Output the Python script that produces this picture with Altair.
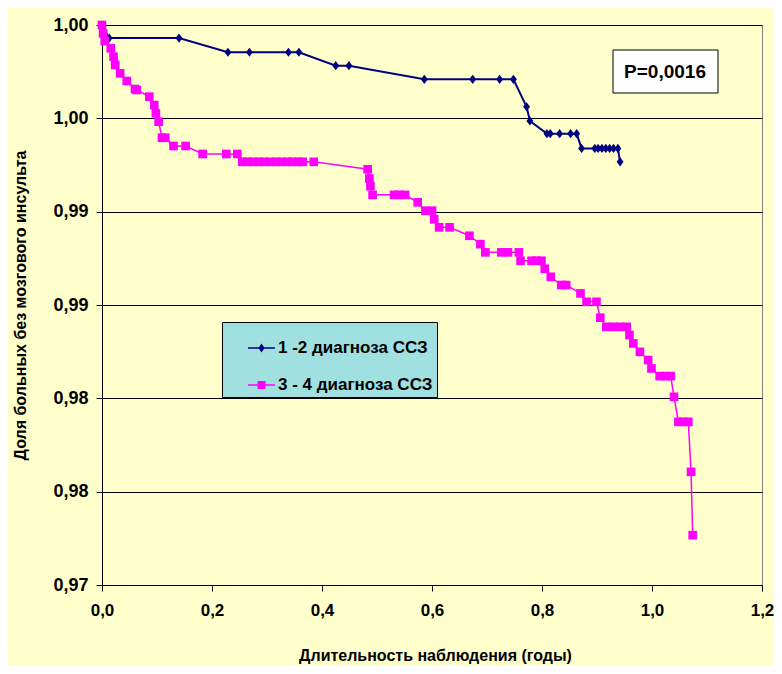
import altair as alt
import pandas as pd

# ---- data ----
series_names = ["1 -2 диагноза ССЗ", "3 - 4 диагноза ССЗ"]
series_colors = ["#000080", "#FF00FF"]

blue_t = [0.000, 0.013, 0.140, 0.229, 0.268, 0.339, 0.358, 0.425, 0.449, 0.586,
          0.674, 0.723, 0.748, 0.772, 0.778, 0.809, 0.815, 0.832, 0.852, 0.863,
          0.872, 0.896, 0.902, 0.909, 0.916, 0.923, 0.930, 0.938, 0.942]
blue_s = [1.00000, 0.99930, 0.99930, 0.99854, 0.99854, 0.99854, 0.99854, 0.99782, 0.99782, 0.99709,
          0.99709, 0.99709, 0.99709, 0.99562, 0.99486, 0.99418, 0.99418, 0.99418, 0.99418, 0.99418,
          0.99339, 0.99339, 0.99339, 0.99339, 0.99339, 0.99339, 0.99339, 0.99339, 0.99267]

pink_t = [0.000, 0.002, 0.005, 0.016, 0.021, 0.024, 0.033, 0.045, 0.060, 0.063,
          0.086, 0.095, 0.098, 0.103, 0.109, 0.115, 0.130, 0.152, 0.183, 0.226,
          0.246, 0.255, 0.265, 0.274, 0.285, 0.294, 0.306, 0.317, 0.326, 0.337,
          0.346, 0.357, 0.365, 0.385, 0.483, 0.486, 0.488, 0.492, 0.531, 0.540,
          0.551, 0.574, 0.588, 0.600, 0.604, 0.613, 0.632, 0.668, 0.688, 0.697,
          0.726, 0.738, 0.758, 0.761, 0.781, 0.790, 0.799, 0.805, 0.816, 0.835,
          0.844, 0.870, 0.881, 0.899, 0.906, 0.917, 0.930, 0.942, 0.954, 0.959,
          0.966, 0.978, 0.993, 0.999, 1.014, 1.025, 1.034, 1.040, 1.048, 1.057,
          1.066, 1.071, 1.074]
pink_s = [1.00000, 0.99955, 0.99914, 0.99875, 0.99830, 0.99786, 0.99741, 0.99700, 0.99657, 0.99652,
          0.99616, 0.99571, 0.99527, 0.99482, 0.99396, 0.99396, 0.99352, 0.99352, 0.99309, 0.99309,
          0.99309, 0.99267, 0.99267, 0.99267, 0.99267, 0.99267, 0.99267, 0.99267, 0.99267, 0.99267,
          0.99267, 0.99267, 0.99267, 0.99267, 0.99227, 0.99178, 0.99137, 0.99090, 0.99090, 0.99090,
          0.99090, 0.99050, 0.99005, 0.99005, 0.98959, 0.98916, 0.98916, 0.98871, 0.98826, 0.98782,
          0.98782, 0.98782, 0.98782, 0.98737, 0.98737, 0.98737, 0.98737, 0.98694, 0.98651, 0.98607,
          0.98607, 0.98562, 0.98517, 0.98517, 0.98432, 0.98383, 0.98383, 0.98383, 0.98383, 0.98339,
          0.98294, 0.98249, 0.98205, 0.98160, 0.98119, 0.98119, 0.98119, 0.98008, 0.97874, 0.97874,
          0.97874, 0.97606, 0.97267]

x_ticks = [0.0, 0.2, 0.4, 0.6, 0.8, 1.0, 1.2]
y_ticks = [0.970, 0.975, 0.980, 0.985, 0.990, 0.995, 1.000]
x_title = "Длительность наблюдения (годы)"
y_title = "Доля больных без мозгового инсульта"
p_label = ["P=0,0016"]

# ---- tables ----
blue = pd.DataFrame({"t": blue_t, "s": blue_s, "i": range(len(blue_t))})
pink = pd.DataFrame({"t": pink_t, "s": pink_s, "i": range(len(pink_t))})
legend_df = pd.DataFrame({"series": series_names})
p_df = pd.DataFrame({"label": p_label})

FONT = "Liberation Sans Narrow, Arial Narrow, Liberation Sans, Arial, sans-serif"

x_enc = alt.X(
    "t:Q",
    scale=alt.Scale(domain=[0, 1.2], nice=False, zero=False),
    axis=alt.Axis(
        values=x_ticks,
        labelExpr="replace(format(datum.value, '.1f'), '.', ',')",
        labelFlush=False,
        title=x_title,
        grid=False,
        tickSize=6,
        tickColor="black",
        domainColor="black",
        labelFont=FONT, labelFontSize=17, labelFontWeight="bold", labelColor="black",
        labelPadding=11,
        titleFont=FONT, titleFontSize=16, titleFontWeight="bold", titleColor="black",
        titleX=333, titleY=70, titleBaseline="middle", titleAlign="center",
    ),
)
y_enc = alt.Y(
    "s:Q",
    scale=alt.Scale(domain=[0.97, 1.0], nice=False, zero=False),
    axis=alt.Axis(
        values=y_ticks,
        labelExpr="replace(format(round(datum.value * 100 + 0.000001) / 100, '.2f'), '.', ',')",
        labelFlush=False,
        title=y_title,
        grid=True, gridColor="black", gridWidth=1, gridOpacity=1,
        tickSize=6,
        tickColor="black",
        domainColor="black",
        labelFont=FONT, labelFontSize=18, labelFontWeight="bold", labelColor="black",
        labelPadding=8,
        titleFont=FONT, titleFontSize=16, titleFontWeight="bold", titleColor="black",
        titleAngle=270, titleX=-82, titleY=280, titleAlign="center", titleBaseline="middle",
    ),
)

diamond_path = "M0,-1L0.75,0L0,1L-0.75,0Z"
leg_diamond = "M0,-0.036L1.227,-0.036L1.227,0.036L0,0.036Z M0.614,-0.2L0.754,0L0.614,0.2L0.474,0Z"
leg_square = "M0,-0.036L1.227,-0.036L1.227,0.036L0,0.036Z M0.434,-0.18L0.794,-0.18L0.794,0.18L0.434,0.18Z"

blue_line = alt.Chart(blue).mark_line(color=series_colors[0], strokeWidth=2).encode(
    x=x_enc, y=y_enc, order="i:Q")
blue_pts = alt.Chart(blue).mark_point(
    filled=True, shape=diamond_path, size=85, color=series_colors[0], opacity=1, strokeWidth=0
).encode(x=x_enc, y=y_enc)
pink_line = alt.Chart(pink).mark_line(color=series_colors[1], strokeWidth=1.5).encode(
    x=x_enc, y=y_enc, order="i:Q")
pink_pts = alt.Chart(pink).mark_point(
    filled=True, shape="square", size=75, color=series_colors[1], opacity=1, strokeWidth=0
).encode(x=x_enc, y=y_enc)

legend_layer = alt.Chart(legend_df).transform_filter("false").mark_point(
    filled=True, opacity=1, strokeWidth=0
).encode(
    color=alt.Color("series:N", title=None,
                    scale=alt.Scale(domain=series_names, range=series_colors)),
    shape=alt.Shape("series:N", title=None,
                    scale=alt.Scale(domain=series_names, range=[leg_diamond, leg_square])),
)

p_box = alt.Chart(p_df).mark_rect(fill="white", stroke="black", strokeWidth=1).encode(
    x=alt.value(511), x2=alt.value(616), y=alt.value(25), y2=alt.value(68))
p_text = alt.Chart(p_df).mark_text(
    font=FONT, fontSize=19, fontWeight="bold", color="black", align="center", baseline="middle"
).encode(x=alt.value(563), y=alt.value(47), text="label:N")

chart = alt.layer(
    blue_line, blue_pts, pink_line, pink_pts, legend_layer, p_box, p_text
).properties(
    width=660, height=560,
    padding={"left": 94, "top": 17, "right": 12, "bottom": 81},
    autosize=alt.AutoSizeParams(type="none"),
    background="#FFFFCC",
).configure_view(
    fill="#C0C0C0", stroke="#808080", strokeWidth=1
).configure_legend(
    orient="none", legendX=120, legendY=297,
    fillColor="#A0E0E0", strokeColor="#000000",
    padding=4, rowPadding=7,
    symbolSize=1936, symbolStrokeWidth=0, symbolOpacity=1,
    labelFont=FONT, labelFontSize=17, labelFontWeight="bold", labelColor="black",
    labelOffset=8, labelLimit=300,
)

chart.save("out.html", embed_options={"renderer": "svg", "actions": False})
